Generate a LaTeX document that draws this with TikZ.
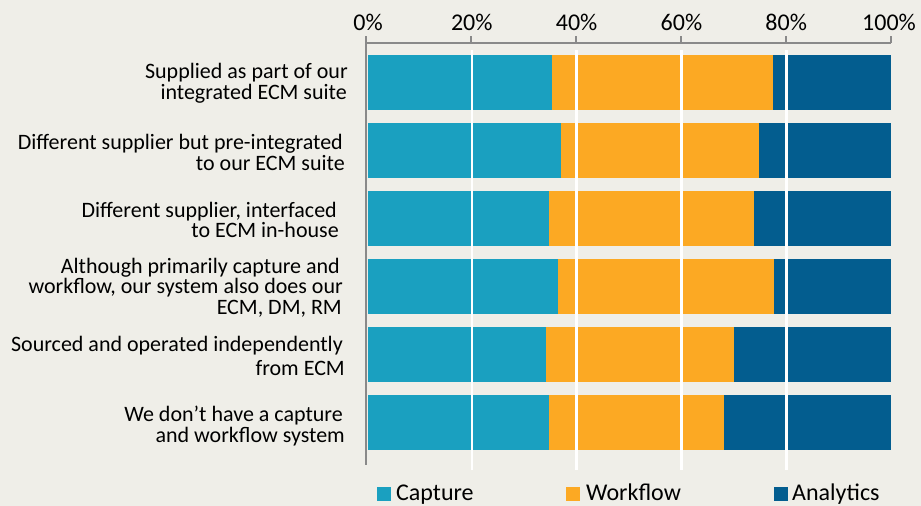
\documentclass[tikz,border=0pt]{standalone}
\usepackage{fontspec}
\setmainfont{Carlito}
\definecolor{bgc}{RGB}{239,238,232}
\definecolor{capc}{RGB}{26,160,192}
\definecolor{wfc}{RGB}{252,169,35}
\definecolor{anc}{RGB}{3,93,143}
\definecolor{axc}{RGB}{137,137,137}
\begin{document}
\begin{tikzpicture}[x=1pt,y=-1pt,
  axisline/.style={draw=axc,line width=2.5pt},
  gridline/.style={draw=white,line width=2.6pt},
  catlabel/.style={anchor=base east,inner sep=0pt,font=\fontsize{22}{26}\selectfont},
  ticklabel/.style={anchor=base,inner sep=0pt,font=\fontsize{24}{28}\selectfont},
  legtext/.style={anchor=base west,inner sep=0pt,font=\fontsize{24}{28}\selectfont},
  legbox/.style={minimum size=14pt,inner sep=0pt,anchor=north west}]
\fill[bgc] (0,0) rectangle (921,506);
\useasboundingbox (0,0) rectangle (921,506);
% bars
\foreach \i/\c/\w in {1/551.5/773,2/561/759,3/549/753.5,4/558/774,5/545.5/733.5,6/548.5/724}{
  \pgfmathsetmacro{\t}{55+(\i-1)*68}
  \pgfmathsetmacro{\b}{\t+55}
  \fill[capc] (368,\t) rectangle (\c,\b);
  \fill[wfc] (\c,\t) rectangle (\w,\b);
  \fill[anc] (\w,\t) rectangle (891,\b);
}
% gridlines
\foreach \x in {471.8,576.6,681.4,786.2}{
  \draw[gridline] (\x,50) -- (\x,470);
}
% axes
\draw[axisline] (366,43) -- (891,43);
\draw[axisline] (366,42) -- (366,465);
\foreach \k in {0,...,5}{
  \pgfmathsetmacro{\xx}{366+\k*105}
  \draw[axisline] (\xx,36) -- (\xx,43);
}
\node[ticklabel] (t0) at (368,30) {0\%};
\node[ticklabel] (t1) at (471.8,30) {20\%};
\node[ticklabel] (t2) at (576.6,30) {40\%};
\node[ticklabel] (t3) at (681.4,30) {60\%};
\node[ticklabel] (t4) at (786.2,30) {80\%};
\node[ticklabel] (t5) at (889,30) {100\%};
% category labels
\node[catlabel] (l11) at (348,78.5) {Supplied as part of our};
\node[catlabel] (l12) at (347,99.5) {integrated ECM suite};
\node[catlabel] (l21) at (343,149.5) {Different supplier but pre-integrated};
\node[catlabel] (l22) at (345,170.5) {to our ECM suite};
\node[catlabel] (l31) at (337,217.5) {Different supplier, interfaced};
\node[catlabel] (l32) at (339,237.5) {to ECM in-house};
\node[catlabel] (l41) at (340,273.5) {Although primarily capture and};
\node[catlabel] (l42) at (343,293.5) {workflow, our system also does our};
\node[catlabel] (l43) at (342,314) {ECM, DM, RM};
\node[catlabel] (l51) at (343,351.5) {Sourced and operated independently};
\node[catlabel] (l52) at (345,375) {from ECM};
\node[catlabel] (l61) at (343,421) {We don’t have a capture};
\node[catlabel] (l62) at (345,442) {and workflow system};
% legend
\node[legbox,fill=capc] (k1) at (377,487) {};
\node[legtext] (k1t) at (396,500.5) {Capture};
\node[legbox,fill=wfc] (k2) at (566,487) {};
\node[legtext] (k2t) at (586,500.5) {Workflow};
\node[legbox,fill=anc] (k3) at (774,487) {};
\node[legtext] (k3t) at (792,500.5) {Analytics};
\end{tikzpicture}
\end{document}
